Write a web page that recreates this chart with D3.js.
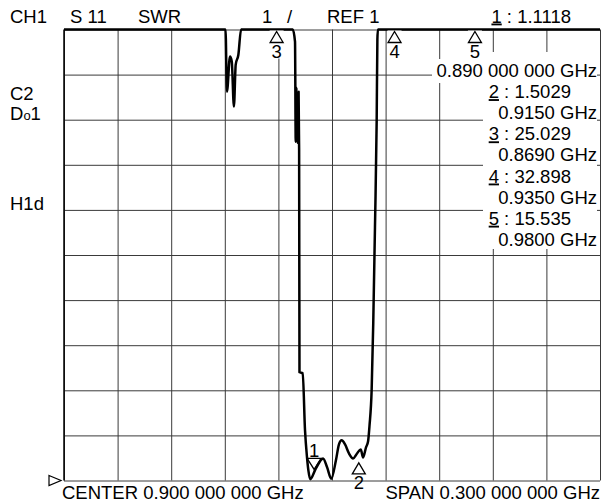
<!DOCTYPE html>
<html>
<head>
<meta charset="utf-8">
<script src="https://cdn.jsdelivr.net/npm/d3@7"></script>
<style>
  body { margin: 0; background: #fff; }
  text { font-family: "Liberation Sans", Arial, sans-serif; font-size: 18.5px; fill: #000; }
</style>
</head>
<body>
<script>
// Trace S11 SWR (GHz, SWR). Les valeurs > 11 sont hors écran.
const freqGHz = [
  0.7500, 0.7813, 0.8093, 0.8345, 0.8404,
  0.8412, 0.8429, 0.8439, 0.8451, 0.8461, 0.8476, 0.8491,
  0.8597, 0.8690, 0.8780,
  0.8793, 0.8797, 0.8801, 0.8807, 0.8813, 0.8816, 0.8818, 0.8836,
  0.8849, 0.8860, 0.8868, 0.8878, 0.8910, 0.8950, 0.8972, 0.8996,
  0.9022, 0.9039, 0.9054, 0.9073, 0.9095, 0.9118, 0.9140, 0.9161,
  0.9174, 0.9190, 0.9202, 0.9210, 0.9222, 0.9231, 0.9241, 0.9250,
  0.9254, 0.9257, 0.9350, 0.9800, 1.0500
];
const swrValues = [
  14.2, 16.0, 18.5, 21.0, 15.0,
  9.62, 10.40, 10.29, 9.29, 10.22, 10.44, 12.5,
  19.0, 25.029, 14.0,
  10.73, 8.51, 9.71, 8.49, 9.62, 8.33, 3.40, 3.38,
  2.11, 1.52, 1.22, 1.03, 1.27, 1.49, 1.30, 1.04,
  1.45, 1.80, 1.89, 1.80, 1.60, 1.49, 1.60, 1.69,
  1.51, 1.73, 1.87, 2.22, 3.02, 4.51, 6.73, 8.96,
  10.78, 13.0, 32.898, 15.535, 14.0
];

// Marqueurs
const markerIds = [1, 2, 3, 4, 5];
const markerFreqs = [0.890, 0.915, 0.869, 0.935, 0.980];
const markerSwr = [1.1118, 1.5029, 25.029, 32.898, 15.535];
const markerValueLabels = ["1.1118", "1.5029", "25.029", "32.898", "15.535"];
const markerFreqLabels = ["0.890 000 000 GHz", "0.9150 GHz", "0.8690 GHz", "0.9350 GHz", "0.9800 GHz"];

// Réglages de l'analyseur
const centerGHz = 0.900, spanGHz = 0.300;
const refValue = 1, perDiv = 1, divisions = 10;
const headerLabels = [["CH1", 10], ["S 11", 70], ["SWR", 138], ["1", 262], ["/", 287], ["REF 1", 327]];
const sideLabels = ["C2", "Do1", "H1d"];
const centerLabel = "CENTER 0.900 000 000 GHz";
const spanLabel = "SPAN 0.300 000 000 GHz";

const margin = { top: 29.5, right: 3, bottom: 23.5, left: 64 },
    width = 603 - margin.left - margin.right,
    height = 504 - margin.top - margin.bottom;

const root = d3.select('body')
    .append('svg')
    .attr('width', 603)
    .attr('height', 504);

const svg = root.append('g')
    .attr('transform', `translate(${margin.left}, ${margin.top})`);

const x = d3.scaleLinear()
    .domain([centerGHz - spanGHz / 2, centerGHz + spanGHz / 2])
    .range([0, width]);
const y = d3.scaleLinear()
    .domain([refValue, refValue + perDiv * divisions])
    .range([height, 0])
    .clamp(true);

// Grille 10 x 10
const xDivs = d3.range(divisions + 1).map(i => x.domain()[0] + i * spanGHz / divisions);
svg.append('g')
    .attr('transform', `translate(0, ${height})`)
    .call(d3.axisBottom(x).tickValues(xDivs).tickSize(height).tickFormat('').tickSizeOuter(0))
    .call(g => g.select('.domain').remove())
    .call(g => g.selectAll('.tick line').attr('y2', -height).attr('stroke', '#3a3a3a'));
svg.append('g')
    .call(d3.axisLeft(y).ticks(divisions).tickSize(-width).tickFormat('').tickSizeOuter(0))
    .call(g => g.select('.domain').remove())
    .call(g => g.selectAll('.tick line').attr('stroke', '#3a3a3a'));
svg.append('line')
    .attr('x1', 0).attr('x2', 0).attr('y1', 0).attr('y2', height)
    .attr('stroke', '#000').attr('stroke-width', 1.5);

// Fond blanc du bloc de lecture des marqueurs
svg.append('rect')
    .attr('x', 432 - margin.left).attr('y', 59 - margin.top)
    .attr('width', 165).attr('height', 24).attr('fill', '#fff');
svg.append('rect')
    .attr('x', 483 - margin.left).attr('y', 52 - margin.top)
    .attr('width', 114).attr('height', 197).attr('fill', '#fff');

// Trace
const points = freqGHz.map((f, i) => [f, swrValues[i]]);
svg.append('path')
    .datum(points)
    .attr('fill', 'none')
    .attr('stroke', '#000')
    .attr('stroke-width', 2.5)
    .attr('stroke-linejoin', 'round')
    .attr('d', d3.line()
        .x(d => x(d[0]))
        .y(d => y(d[1]))
        .curve(d3.curveMonotoneX));

// Symboles des marqueurs
markerIds.forEach((id, i) => {
    const mx = x(markerFreqs[i]), my = y(markerSwr[i]);
    const g = svg.append('g');
    if (id === 1) {
        const tip = my - 6;
        g.append('path')
            .attr('d', `M${mx - 7},${tip - 11}L${mx + 7},${tip - 11}L${mx},${tip}Z`)
            .attr('fill', 'none').attr('stroke', '#000').attr('stroke-width', 1.3);
        g.append('text').attr('x', mx).attr('y', tip - 12)
            .attr('text-anchor', 'middle').text(id);
    } else {
        const apex = markerSwr[i] > y.domain()[1] ? my + 2 : my + 5;
        if (markerSwr[i] > y.domain()[1]) {
            g.append('rect').attr('x', mx - 7).attr('y', apex - 1)
                .attr('width', 14).attr('height', 28).attr('fill', '#fff');
        }
        g.append('path')
            .attr('d', `M${mx},${apex}L${mx + 6.5},${apex + 11}L${mx - 6.5},${apex + 11}Z`)
            .attr('fill', 'none').attr('stroke', '#000').attr('stroke-width', 1.3);
        g.append('text').attr('x', mx).attr('y', apex + 26)
            .attr('text-anchor', 'middle').text(id);
    }
});

// Marqueur de référence
root.append('path')
    .attr('d', `M${margin.left - 15},${margin.top + y(refValue) - 5}L${margin.left - 3},${margin.top + y(refValue)}L${margin.left - 15},${margin.top + y(refValue) + 5}Z`)
    .attr('fill', 'none').attr('stroke', '#000').attr('stroke-width', 1.2);

// En-tête
root.selectAll('.header')
    .data(headerLabels)
    .join('text')
    .attr('class', 'header')
    .attr('x', d => d[1])
    .attr('y', 23)
    .text(d => d[0]);

// Étiquettes à gauche
const side = root.append('g');
side.append('text').attr('x', 10).attr('y', 100).text(sideLabels[0]);
side.append('text').attr('x', 10).attr('y', 119.5)
    .call(t => {
        t.append('tspan').text('D');
        t.append('tspan').attr('font-size', '13px').text('o');
        t.append('tspan').text('1');
    });
side.append('text').attr('x', 10).attr('y', 210).text(sideLabels[2]);

// Lecture des marqueurs
const rowStep = 21.1, firstRow = 77;
markerIds.forEach((id, i) => {
    const valueY = i === 0 ? 22.5 : firstRow + (2 * i - 1) * rowStep;
    const freqY = firstRow + 2 * i * rowStep;
    const t = root.append('text')
        .attr('x', 571).attr('y', valueY)
        .attr('text-anchor', 'end');
    t.append('tspan').attr('text-decoration', 'underline').text(id);
    t.append('tspan').text(' : ' + markerValueLabels[i]);
    root.append('text')
        .attr('x', 597).attr('y', freqY)
        .attr('text-anchor', 'end')
        .text(markerFreqLabels[i]);
});

// Bas
root.append('text').attr('x', 62).attr('y', 499).text(centerLabel);
root.append('text').attr('x', 600).attr('y', 499).attr('text-anchor', 'end').text(spanLabel);
</script>
</body>
</html>
